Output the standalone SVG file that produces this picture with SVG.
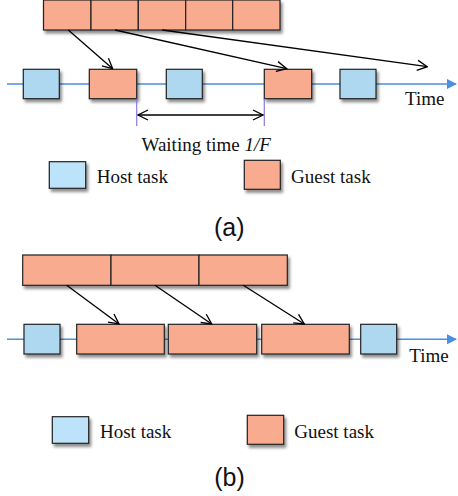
<svg xmlns="http://www.w3.org/2000/svg" width="458" height="496" viewBox="0 0 458 496">
<defs>
<filter id="sh" x="-20%" y="-20%" width="150%" height="150%">
<feGaussianBlur in="SourceAlpha" stdDeviation="1.5"/>
<feOffset dx="2" dy="2.5" result="b"/>
<feComponentTransfer><feFuncA type="linear" slope="0.45"/></feComponentTransfer>
<feMerge><feMergeNode/><feMergeNode in="SourceGraphic"/></feMerge>
</filter>
<marker id="open" markerWidth="12" markerHeight="12" viewBox="0 0 12 12" refX="11" refY="6" orient="auto" markerUnits="userSpaceOnUse">
<path d="M1,1 L11,6 L1,11" fill="none" stroke="#000" stroke-width="1.3"/>
</marker>
<marker id="openS" markerWidth="12" markerHeight="12" viewBox="0 0 12 12" refX="1" refY="6" orient="auto" markerUnits="userSpaceOnUse">
<path d="M11,1 L1,6 L11,11" fill="none" stroke="#000" stroke-width="1.3"/>
</marker>
<marker id="blue" markerWidth="10" markerHeight="10" viewBox="0 0 10 10" refX="9" refY="5" orient="auto" markerUnits="userSpaceOnUse">
<path d="M0,0 L10,5 L0,10 Z" fill="#4A8FE0"/>
</marker>
</defs>
<style>
.guest{fill:#F8AB8F;stroke:#222;stroke-width:1.2}
.host{fill:#ADD8F0;stroke:#222;stroke-width:1.2}
.hostL{fill:#BDE3FA;stroke:#222;stroke-width:1.2}
.tl{stroke:#4A8FE0;stroke-width:1.5;fill:none}
.arr{stroke:#000;stroke-width:1.3;fill:none}
.serif{font-family:"Liberation Serif","Times New Roman",serif;font-size:19px;fill:#111}
.cap{font-family:"Liberation Sans",Arial,sans-serif;font-size:25px;fill:#111}
.vl{stroke:#8878E0;stroke-width:1.2}
</style>

<!-- (a) -->
<g id="timeline-a"><line class="tl" x1="7" y1="84" x2="456" y2="84" marker-end="url(#blue)"/></g>
<g id="queue-a" filter="url(#sh)">
<rect class="guest" x="43.5" y="0" width="47.5" height="30"/>
<rect class="guest" x="91" y="0" width="47.3" height="30"/>
<rect class="guest" x="138.3" y="0" width="47.4" height="30"/>
<rect class="guest" x="185.7" y="0" width="47" height="30"/>
<rect class="guest" x="232.7" y="0" width="47.3" height="30"/>
</g>
<g id="host-a1" filter="url(#sh)"><rect class="host" x="23.3" y="69.3" width="36" height="29.4"/></g>
<g id="guest-a1" filter="url(#sh)"><rect class="guest" x="89.3" y="69.3" width="47.4" height="29.4"/></g>
<g id="host-a2" filter="url(#sh)"><rect class="host" x="166.3" y="69.3" width="36" height="29.4"/></g>
<g id="guest-a2" filter="url(#sh)"><rect class="guest" x="264.3" y="69.3" width="47.4" height="29.4"/></g>
<g id="host-a3" filter="url(#sh)"><rect class="host" x="340" y="69.3" width="36" height="29.4"/></g>
<g id="connectors-a">
<line class="arr" x1="68.3" y1="30" x2="112.7" y2="68.7" marker-end="url(#open)"/>
<line class="arr" x1="115" y1="30" x2="286.7" y2="68.7" marker-end="url(#open)"/>
<line class="arr" x1="162.3" y1="30" x2="427.3" y2="66.7" marker-end="url(#open)"/>
<line class="vl" x1="136.7" y1="98.7" x2="136.7" y2="126"/>
<line class="vl" x1="264.3" y1="98.7" x2="264.3" y2="126"/>
<line class="arr" x1="138" y1="115" x2="263" y2="115" marker-start="url(#openS)" marker-end="url(#open)"/>
</g>
<text class="serif" x="405" y="105">Time</text>
<text class="serif" x="141.5" y="151">Waiting time <tspan font-style="italic">1/F</tspan></text>
<g id="legend-host-a"><rect class="hostL" x="49.3" y="161.7" width="36.4" height="26.6" filter="url(#sh)"/><text class="serif" x="96.7" y="183">Host task</text></g>
<g id="legend-guest-a"><rect class="guest" x="244.3" y="160.3" width="36" height="29" filter="url(#sh)"/><text class="serif" x="291" y="183">Guest task</text></g>
<text class="cap" x="229.3" y="236" text-anchor="middle">(a)</text>

<!-- (b) -->
<g id="timeline-b"><line class="tl" x1="7" y1="339.3" x2="456" y2="339.3" marker-end="url(#blue)"/></g>
<g id="queue-b" filter="url(#sh)">
<rect class="guest" x="22.7" y="255" width="88.3" height="30.3"/>
<rect class="guest" x="111" y="255" width="88" height="30.3"/>
<rect class="guest" x="199" y="255" width="88.3" height="30.3"/>
</g>
<g id="host-b1" filter="url(#sh)"><rect class="host" x="24" y="324.3" width="36" height="29.7"/></g>
<g id="guest-b1" filter="url(#sh)"><rect class="guest" x="76.7" y="324.3" width="87.6" height="29.7"/></g>
<g id="guest-b2" filter="url(#sh)"><rect class="guest" x="168.3" y="324.3" width="88.4" height="29.7"/></g>
<g id="guest-b3" filter="url(#sh)"><rect class="guest" x="261.7" y="324.3" width="87.6" height="29.7"/></g>
<g id="host-b2" filter="url(#sh)"><rect class="host" x="360.7" y="324.3" width="36" height="29.7"/></g>
<g id="connectors-b">
<line class="arr" x1="66.7" y1="285.3" x2="119" y2="324" marker-end="url(#open)"/>
<line class="arr" x1="155" y1="285.3" x2="211.7" y2="324" marker-end="url(#open)"/>
<line class="arr" x1="243.3" y1="285.3" x2="304.3" y2="324" marker-end="url(#open)"/>
</g>
<text class="serif" x="409.3" y="361.5">Time</text>
<g id="legend-host-b"><rect class="hostL" x="52.3" y="416.7" width="36.4" height="26.6" filter="url(#sh)"/><text class="serif" x="100" y="437.5">Host task</text></g>
<g id="legend-guest-b"><rect class="guest" x="247.3" y="415.3" width="36.4" height="29" filter="url(#sh)"/><text class="serif" x="294.3" y="437.5">Guest task</text></g>
<text class="cap" x="229.5" y="486" text-anchor="middle">(b)</text>
</svg>
